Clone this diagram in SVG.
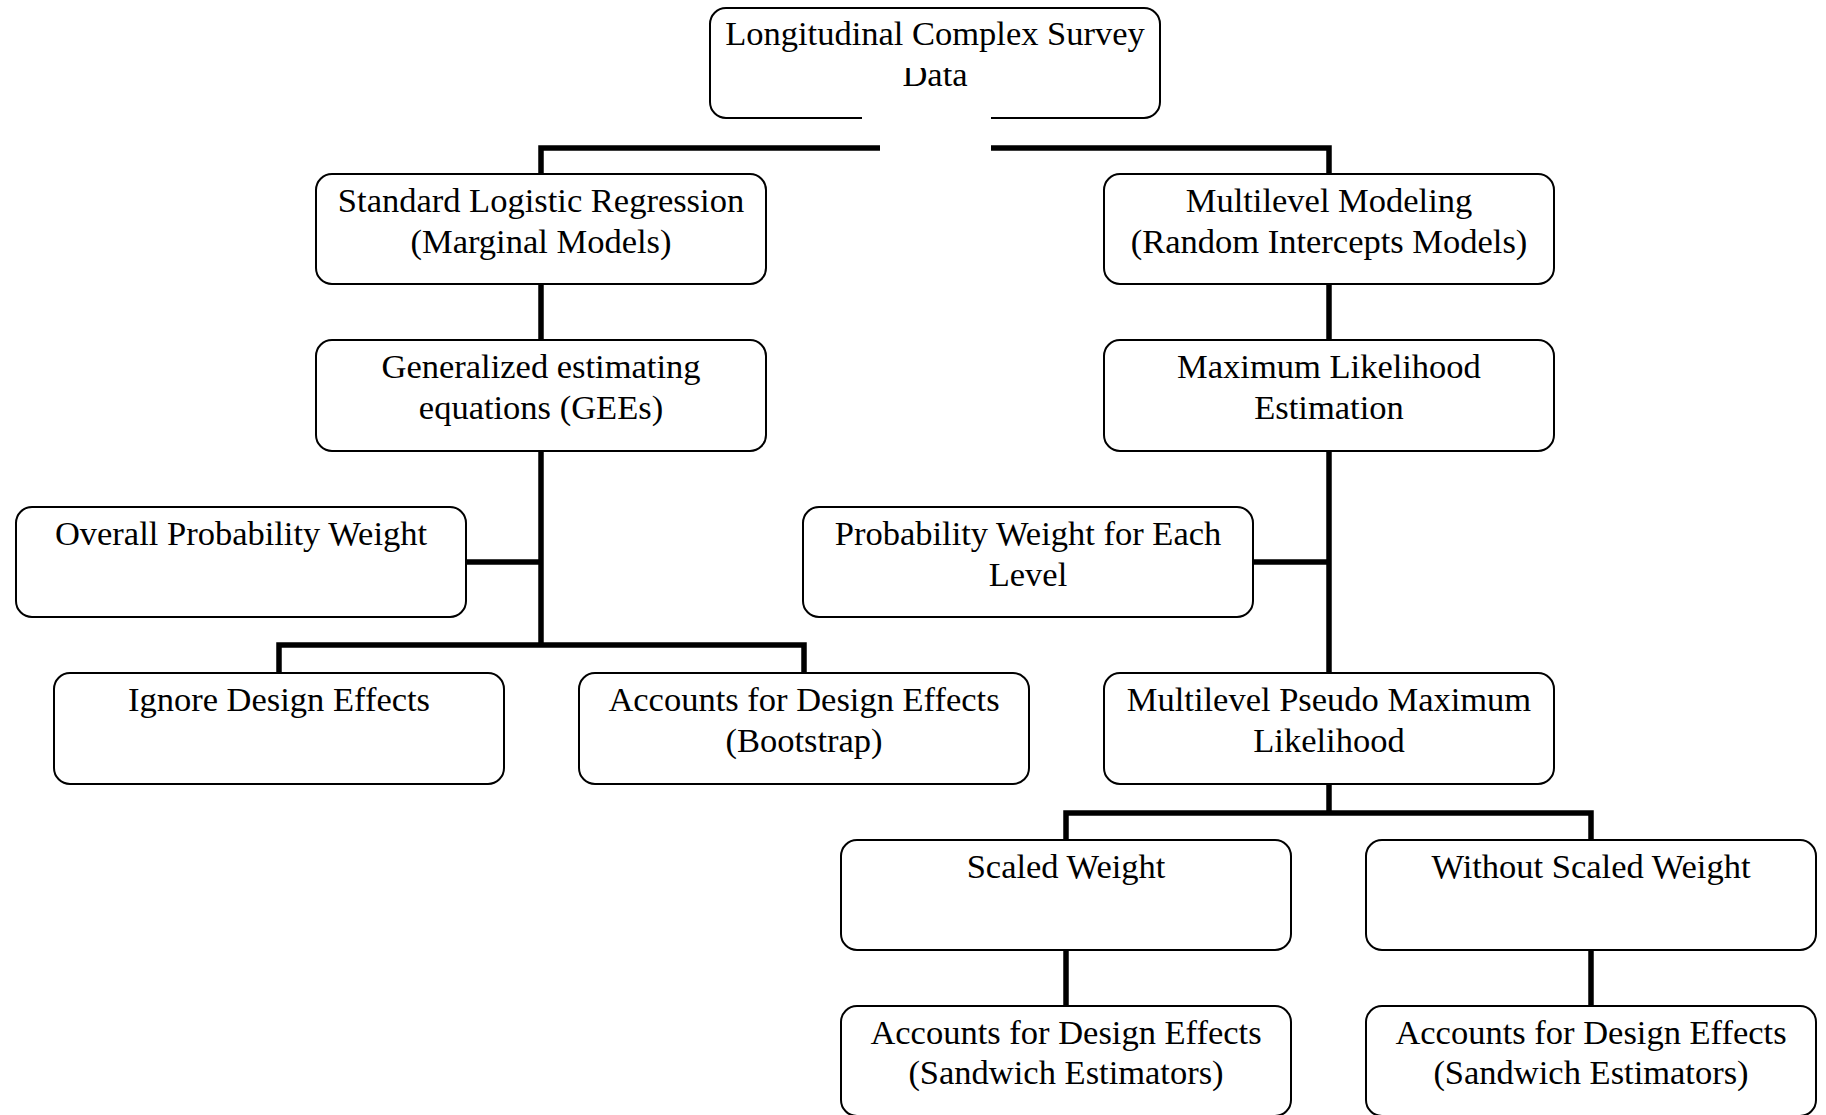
<svg xmlns="http://www.w3.org/2000/svg" width="1826" height="1115" viewBox="0 0 1826 1115">
<style>
.box{fill:#fff;stroke:#000;stroke-width:2}
.t{font-family:"Liberation Serif","Times New Roman",serif;font-size:34.5px;fill:#000;text-anchor:middle}
.c{fill:none;stroke:#000;stroke-width:5.5;stroke-linejoin:miter;stroke-linecap:butt}
</style>
<defs>
<clipPath id="dataClip"><rect x="700" y="68" width="470" height="60"/></clipPath>
</defs>
<rect width="1826" height="1115" fill="#fff"/>
<g id="connectors">
<path class="c" d="M541,174 V148 H880"/>
<path class="c" d="M991,148 H1329 V174"/>
<path class="c" d="M541,284 V340"/>
<path class="c" d="M541,451 V645"/>
<path class="c" d="M466,562 H541"/>
<path class="c" d="M279,673 V645 H804 V673"/>
<path class="c" d="M1329,284 V340"/>
<path class="c" d="M1329,451 V673"/>
<path class="c" d="M1253,562 H1329"/>
<path class="c" d="M1329,784 V813"/>
<path class="c" d="M1066,840 V813 H1591 V840"/>
<path class="c" d="M1066,950 V1006"/>
<path class="c" d="M1591,950 V1006"/>
</g>
<g id="n-top">
<path class="box" d="M862,118 H726 A16,16 0 0 1 710,102 V24 A16,16 0 0 1 726,8 H1144 A16,16 0 0 1 1160,24 V102 A16,16 0 0 1 1144,118 H991"/>
<text class="t" x="935" y="45">Longitudinal Complex Survey</text>
<text class="t" x="935" y="86" clip-path="url(#dataClip)">Data</text>
</g>
<g id="n-slr">
<rect class="box" x="316" y="174" width="450" height="110" rx="16"/>
<text class="t" x="541" y="212">Standard Logistic Regression</text>
<text class="t" x="541" y="253">(Marginal Models)</text>
</g>
<g id="n-mm">
<rect class="box" x="1104" y="174" width="450" height="110" rx="16"/>
<text class="t" x="1329" y="212">Multilevel Modeling</text>
<text class="t" x="1329" y="253">(Random Intercepts Models)</text>
</g>
<g id="n-gee">
<rect class="box" x="316" y="340" width="450" height="111" rx="16"/>
<text class="t" x="541" y="378">Generalized estimating</text>
<text class="t" x="541" y="419">equations (GEEs)</text>
</g>
<g id="n-mle">
<rect class="box" x="1104" y="340" width="450" height="111" rx="16"/>
<text class="t" x="1329" y="378">Maximum Likelihood</text>
<text class="t" x="1329" y="419">Estimation</text>
</g>
<g id="n-opw">
<rect class="box" x="16" y="507" width="450" height="110" rx="16"/>
<text class="t" x="241" y="545">Overall Probability Weight</text>
</g>
<g id="n-pwel">
<rect class="box" x="803" y="507" width="450" height="110" rx="16"/>
<text class="t" x="1028" y="545">Probability Weight for Each</text>
<text class="t" x="1028" y="586">Level</text>
</g>
<g id="n-ignore">
<rect class="box" x="54" y="673" width="450" height="111" rx="16"/>
<text class="t" x="279" y="711">Ignore Design Effects</text>
</g>
<g id="n-boot">
<rect class="box" x="579" y="673" width="450" height="111" rx="16"/>
<text class="t" x="804" y="711">Accounts for Design Effects</text>
<text class="t" x="804" y="752">(Bootstrap)</text>
</g>
<g id="n-mpml">
<rect class="box" x="1104" y="673" width="450" height="111" rx="16"/>
<text class="t" x="1329" y="711">Multilevel Pseudo Maximum</text>
<text class="t" x="1329" y="752">Likelihood</text>
</g>
<g id="n-scaled">
<rect class="box" x="841" y="840" width="450" height="110" rx="16"/>
<text class="t" x="1066" y="878">Scaled Weight</text>
</g>
<g id="n-without">
<rect class="box" x="1366" y="840" width="450" height="110" rx="16"/>
<text class="t" x="1591" y="878">Without Scaled Weight</text>
</g>
<g id="n-sand1">
<rect class="box" x="841" y="1006" width="450" height="110" rx="16"/>
<text class="t" x="1066" y="1044">Accounts for Design Effects</text>
<text class="t" x="1066" y="1084">(Sandwich Estimators)</text>
</g>
<g id="n-sand2">
<rect class="box" x="1366" y="1006" width="450" height="110" rx="16"/>
<text class="t" x="1591" y="1044">Accounts for Design Effects</text>
<text class="t" x="1591" y="1084">(Sandwich Estimators)</text>
</g>
</svg>
